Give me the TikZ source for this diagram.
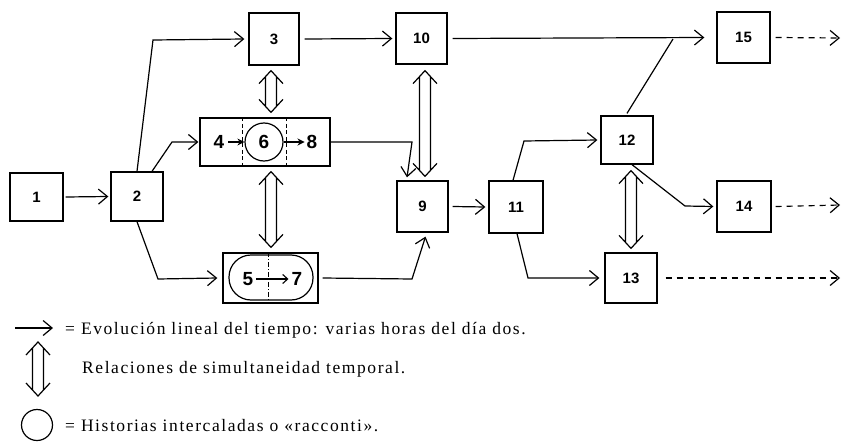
\documentclass[tikz,border=0pt]{standalone}
\usepackage{fontspec}
\setmainfont{Liberation Serif}
\newfontfamily\numfont{Liberation Sans}
\newfontfamily\legfont[LetterSpace=9]{Liberation Serif}
\usetikzlibrary{arrows.meta,calc}
\tikzset{
 box/.style={draw, line width=1.3pt, inner sep=0pt, font=\numfont\bfseries\fontsize{15}{15}\selectfont},
 flow/.style={line width=1.2pt, -{Straight Barb[length=9pt,width=15pt,line width=1.2pt]}},
 cont/.style={flow, dash pattern=on 6pt off 5pt},
 small/.style={line width=1.1pt, -{Stealth[length=7pt,width=7pt]}},
 smallopen/.style={line width=1.1pt, -{Straight Barb[length=5pt,width=9pt,line width=1.1pt]}},
 big/.style={font=\numfont\bfseries\fontsize{19}{19}\selectfont, inner sep=0pt},
 legend/.style={anchor=west, font=\legfont\fontsize{17.5}{17.5}\selectfont, inner sep=0pt},
}
\newcommand\simularrow[2]{\draw[line width=1.2pt] let \p1=(#1), \p2=(#2) in
 (\x1-12pt,\y1-13pt) -- (\p1) -- (\x1+12pt,\y1-13pt)
 (\x1-5.5pt,\y1-6pt) -- (\x2-5.5pt,\y2+6pt)
 (\x1+5.5pt,\y1-6pt) -- (\x2+5.5pt,\y2+6pt)
 (\x2-12pt,\y2+13pt) -- (\p2) -- (\x2+12pt,\y2+13pt);}
\begin{document}
\begin{tikzpicture}[x=1pt,y=-1pt]
\useasboundingbox (0,0) rectangle (846,444);
% boxes
\node[box, minimum width=53pt, minimum height=48pt] (n1) at (36.5,197) {1};
\node[box, minimum width=52pt, minimum height=49pt] (n2) at (137,196.5) {2};
\node[box, minimum width=50pt, minimum height=52pt] (n3) at (274,39) {3};
\node[box, minimum width=51pt, minimum height=51pt] (n10) at (421.5,38.5) {10};
\node[box, minimum width=51pt, minimum height=51pt] (n9) at (422.5,206.5) {9};
\node[box, minimum width=54pt, minimum height=52pt] (n11) at (516,207) {11};
\node[box, minimum width=52pt, minimum height=48pt] (n12) at (627,140) {12};
\node[box, minimum width=53pt, minimum height=51pt] (n15) at (743.5,37.5) {15};
\node[box, minimum width=54pt, minimum height=51pt] (n14) at (744,206.5) {14};
\node[box, minimum width=52pt, minimum height=50pt] (n13) at (631,278) {13};
% 4-6-8 box
\node[box, minimum width=130pt, minimum height=48pt] (n468) at (265,142) {};
\draw[line width=1pt, dash pattern=on 4pt off 2.5pt] ($(n468.north west)+(43,0)$) -- ($(n468.south west)+(43,0)$);
\draw[line width=1pt, dash pattern=on 4pt off 2.5pt] ($(n468.north west)+(87,0)$) -- ($(n468.south west)+(87,0)$);
\node[big] (t4) at (219,142) {4};
\node[draw, circle, line width=1.2pt, minimum size=38pt, inner sep=0pt, big] (c6) at (264,142) {6};
\node[big] (t8) at (312,142) {8};
\draw[small] ([xshift=4pt]t4.east) -- (c6.west);
\draw[small] (c6.east) -- ([xshift=-2pt]t8.west);
% 5-7 box
\node[box, minimum width=95pt, minimum height=50pt] (n57) at (270.5,278) {};
\node[draw, line width=1.2pt, rounded corners=22pt, minimum width=84pt, minimum height=45pt] (s57) at (271,277.5) {};
\draw[line width=1pt, dash pattern=on 5pt off 2pt on 1pt off 2pt] ($(n57.north west)+(46,0)$) -- ($(n57.south west)+(46,0)$);
\node[big] (t5) at (248,279) {5};
\node[big] (t7) at (297,279) {7};
\draw[smallopen] ([xshift=3pt]t5.east) -- ([xshift=-3pt]t7.west);
% flow arrows
\draw[flow] ([xshift=2pt]n1.east) -- ([xshift=-2pt]n2.west);
\draw[flow] (n2.north) -- (153,40) -- ([xshift=-4pt]n3.west);
\draw[flow] ([xshift=15pt]n2.north) -- (172,142) -- ([xshift=-1pt]n468.west);
\draw[flow] (n2.south) -- (158,279) -- ([xshift=-5pt]n57.west);
\draw[flow] ([xshift=5pt]n3.east) -- ([xshift=-3pt]n10.west);
\draw[flow] ([xshift=5pt]n10.east) -- ([xshift=-12pt]n15.west);
\coordinate (j15) at (673,39);
\draw[line width=1.2pt] ([yshift=2pt]n12.north) -- (j15);
\draw[flow] (n468.east) -- (412,142) -- ([xshift=-15.5pt,yshift=3pt]n9.north);
\draw[flow] ([xshift=4pt]n57.east) -- (412,279) -- ([xshift=3pt,yshift=-4pt]n9.south);
\draw[flow] ([xshift=4pt]n9.east) -- ([xshift=-3pt]n11.west);
\draw[flow] ([xshift=-3pt]n11.north) -- (524,141) -- ([xshift=-3pt]n12.west);
\draw[flow] ([xshift=1pt]n11.south) -- (528,278) -- ([xshift=-5pt]n13.west);
\draw[flow] ([xshift=5pt]n12.south) -- (685,206) -- ([xshift=-3pt]n14.west);
% continuation arrows
\coordinate (e15) at (840,38);
\coordinate (e14) at (840,205);
\coordinate (e13) at (840,278);
\draw[cont] ([xshift=5pt]n15.east) -- (e15);
\draw[cont] ([xshift=4pt]n14.east) -- (e14);
\draw[cont] ([xshift=8pt]n13.east) -- (e13);
% simultaneity arrows
\simularrow{[yshift=-5pt]n3.south -| 271,0}{[yshift=5pt]n468.north -| 271,0}
\simularrow{[yshift=-5pt]n468.south -| 271,0}{[yshift=5pt]n57.north -| 271,0}
\simularrow{[yshift=-6pt]n10.south -| 425,0}{[yshift=4pt]n9.north -| 425,0}
\simularrow{[yshift=-6pt]n12.south -| 631,0}{[yshift=4pt]n13.north -| 631,0}
% legend
\coordinate (la) at (15,328);
\coordinate (lb) at (53,328);
\draw[flow] (la) -- (lb);
\node[legend] (l1) at (65,330) {= Evolución lineal del tiempo: varias horas del día dos.};
\coordinate (lc) at (38,342);
\coordinate (ld) at (38,396);
\simularrow{lc}{ld}
\node[legend] (l2) at (82,369) {Relaciones de simultaneidad temporal.};
\node[draw, circle, line width=1.2pt, minimum size=31pt, inner sep=0pt] (lcirc) at (37,425) {};
\node[legend] (l3) at (65,426) {= Historias intercaladas o «racconti».};
\end{tikzpicture}
\end{document}
